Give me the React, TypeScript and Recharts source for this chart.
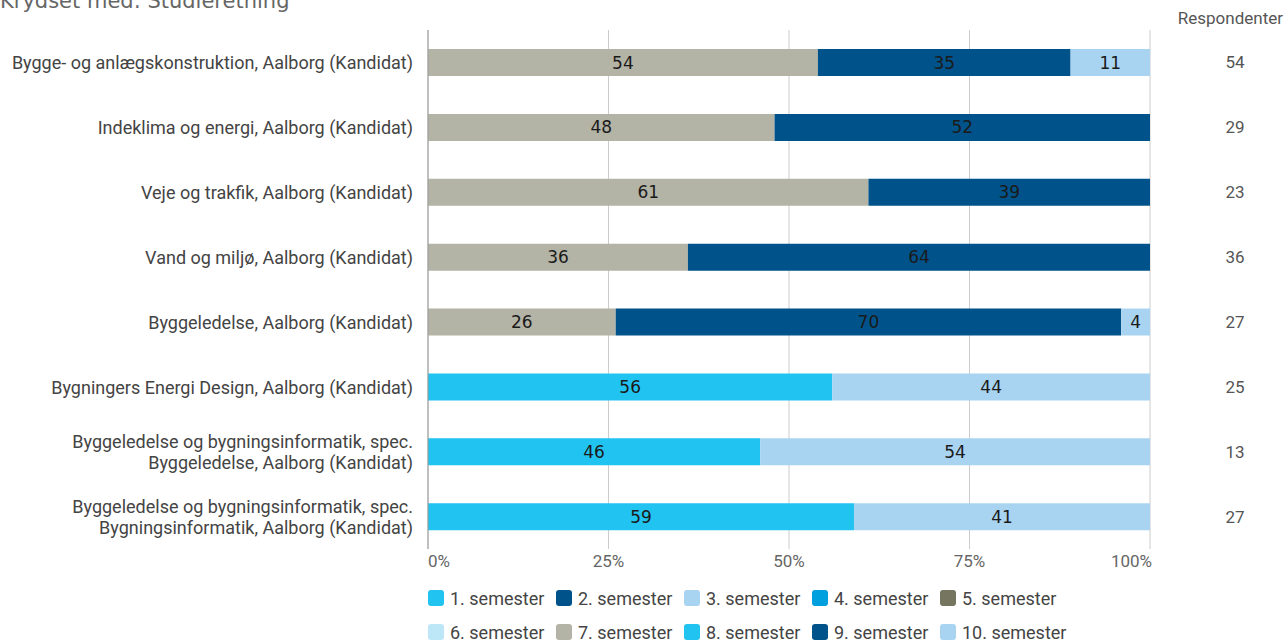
import React from "react";
import {
  BarChart,
  Bar,
  XAxis,
  YAxis,
  CartesianGrid,
  LabelList,
  Legend,
} from "recharts";

const categories = [
  "Bygge- og anlægskonstruktion, Aalborg (Kandidat)",
  "Indeklima og energi, Aalborg (Kandidat)",
  "Veje og trakfik, Aalborg (Kandidat)",
  "Vand og miljø, Aalborg (Kandidat)",
  "Byggeledelse, Aalborg (Kandidat)",
  "Bygningers Energi Design, Aalborg (Kandidat)",
  "Byggeledelse og bygningsinformatik, spec.\nByggeledelse, Aalborg (Kandidat)",
  "Byggeledelse og bygningsinformatik, spec.\nBygningsinformatik, Aalborg (Kandidat)",
];

const respondents = [54, 29, 23, 36, 27, 25, 13, 27];

const seriesNames = [
  "1. semester",
  "2. semester",
  "3. semester",
  "4. semester",
  "5. semester",
  "6. semester",
  "7. semester",
  "8. semester",
  "9. semester",
  "10. semester",
];

const seriesColors = [
  "#21c3f0",
  "#00538a",
  "#a8d4f2",
  "#009fde",
  "#767560",
  "#bde6f7",
  "#b3b3a6",
  "#21c3f0",
  "#00538a",
  "#a8d4f2",
];

// percentages per semester, one value per category
const sem1 = [0, 0, 0, 0, 0, 0, 0, 0];
const sem2 = [0, 0, 0, 0, 0, 0, 0, 0];
const sem3 = [0, 0, 0, 0, 0, 0, 0, 0];
const sem4 = [0, 0, 0, 0, 0, 0, 0, 0];
const sem5 = [0, 0, 0, 0, 0, 0, 0, 0];
const sem6 = [0, 0, 0, 0, 0, 0, 0, 0];
const sem7 = [54, 48, 61, 36, 26, 0, 0, 0];
const sem8 = [0, 0, 0, 0, 0, 56, 46, 59];
const sem9 = [35, 52, 39, 64, 70, 0, 0, 0];
const sem10 = [11, 0, 0, 0, 4, 44, 54, 41];

const xTicks = [0, 25, 50, 75, 100];

const allSeries = [sem1, sem2, sem3, sem4, sem5, sem6, sem7, sem8, sem9, sem10];

const data = categories.map((name, i) => {
  const row: any = { name, n: respondents[i] };
  allSeries.forEach((s, k) => {
    row["s" + (k + 1)] = s[i];
  });
  return row;
});

const LeftTick = (props: any) => {
  const { x, y, payload } = props;
  const lines = String(payload.value).split("\n");
  const lh = 21;
  const start = y - ((lines.length - 1) * lh) / 2;
  return (
    <text
      x={x - 7}
      y={start}
      textAnchor="end"
      dominantBaseline="central"
      fill="#444"
      fontSize={18}
      fontFamily="Roboto"
    >
      {lines.map((l, i) => (
        <tspan key={i} x={x - 7} y={start + i * lh}>
          {l}
        </tspan>
      ))}
    </text>
  );
};

const RightTick = (props: any) => {
  const { x, y, payload } = props;
  return (
    <text
      x={x + 77}
      y={y}
      textAnchor="middle"
      dominantBaseline="central"
      fill="#555"
      fontSize={17}
      fontFamily="Roboto"
    >
      {payload.value}
    </text>
  );
};

const BottomTick = (props: any) => {
  const { x, y, payload } = props;
  const v = payload.value;
  const anchor = v === 0 ? "start" : v === 100 ? "end" : "middle";
  return (
    <text
      x={v === 100 ? x + 2 : x}
      y={y + 10}
      textAnchor={anchor}
      fill="#666"
      fontSize={17}
      fontFamily="Roboto"
    >
      {v}%
    </text>
  );
};

const LegendBox = () => (
  <div
    style={{
      display: "grid",
      gridTemplateColumns: "repeat(5, 128px)",
      rowGap: 14,
      paddingLeft: 428,
      paddingTop: 3,
      fontFamily: "Roboto",
      fontSize: 18,
      color: "#444",
    }}
  >
    {seriesNames.map((s, i) => (
      <div
        key={s}
        style={{ display: "flex", alignItems: "center", height: 20, whiteSpace: "nowrap" }}
      >
        <span
          style={{
            width: 16,
            height: 16,
            flex: "none",
            borderRadius: 3,
            background: seriesColors[i],
            marginRight: 6,
          }}
        />
        {s}
      </div>
    ))}
  </div>
);

export default function App() {
  return (
    <div
      style={{
        position: "absolute",
        top: 0,
        left: 0,
        width: 1284,
        height: 641,
        overflow: "hidden",
        background: "#fff",
      }}
    >
      <div
        style={{
          position: "absolute",
          top: -11,
          left: 0,
          fontFamily: "DejaVu Sans",
          fontSize: 21,
          color: "#666",
          whiteSpace: "nowrap",
        }}
      >
        Krydset med: Studieretning
      </div>
      <div
        style={{
          position: "absolute",
          top: 8,
          right: 1,
          fontFamily: "Roboto",
          fontSize: 17,
          color: "#555",
        }}
      >
        Respondenter
      </div>
      <BarChart
        width={1284}
        height={641}
        data={data}
        layout="vertical"
        margin={{ top: 30, right: 0, bottom: 0, left: 0 }}
        style={{ position: "absolute", top: 0, left: 0 }}
      >
        <CartesianGrid horizontal={false} stroke="#ccc" />
        <XAxis
          type="number"
          domain={[0, 100]}
          ticks={xTicks}
          axisLine={false}
          tickLine={false}
          tick={<BottomTick />}
          height={36}
        />
        <YAxis
          yAxisId="left"
          type="category"
          dataKey="name"
          width={428}
          tickLine={false}
          axisLine={{ stroke: "#999" }}
          tick={<LeftTick />}
          interval={0}
        />
        <YAxis
          yAxisId="right"
          orientation="right"
          type="category"
          dataKey="n"
          width={134}
          tickLine={false}
          axisLine={false}
          interval={0}
          tick={<RightTick />}
        />
        <Legend
          verticalAlign="bottom"
          align="left"
          content={<LegendBox />}
          wrapperStyle={{ bottom: 0, left: 0, width: 1284, height: 56 }}
        />
        {seriesNames.map((s, i) => (
          <Bar
            key={s}
            yAxisId="left"
            dataKey={"s" + (i + 1)}
            name={s}
            stackId="a"
            fill={seriesColors[i]}
            barSize={27}
            isAnimationActive={false}
          >
            <LabelList
              dataKey={"s" + (i + 1)}
              position="center"
              fill="#1a1a1a"
              fontSize={17}
              fontFamily="DejaVu Sans"
              formatter={(v: any) => (v ? v : "")}
            />
          </Bar>
        ))}
      </BarChart>
    </div>
  );
}
